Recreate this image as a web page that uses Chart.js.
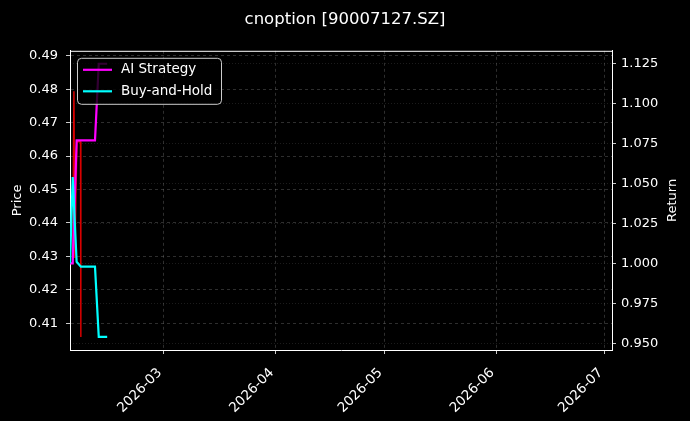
<!DOCTYPE html>
<html>
<head>
<meta charset="utf-8">
<script src="https://cdn.jsdelivr.net/npm/chart.js@4.4.0/dist/chart.umd.min.js"></script>
<style>
  html, body { margin: 0; padding: 0; background: #000; }
  #wrap { width: 690px; height: 421px; }
</style>
</head>
<body>
<div id="wrap"><canvas id="chart"></canvas></div>
<script>
// x range of the axes
const X_START = '2026-02-03T00:00';
const X_END = '2026-07-03T00:00';

// price (left axis, thin red line)
const priceTimes = ['2026-02-03T19:00', '2026-02-04T02:00', '2026-02-04T08:00', '2026-02-04T22:00', '2026-02-05T22:00', '2026-02-06T00:00'];
const priceValues = [0.432, 0.4794, 0.4295, 0.4643, 0.4643, 0.4059];

// equity curves (right axis)
const curveTimes = ['2026-02-03T00:00', '2026-02-03T18:00', '2026-02-04T20:00', '2026-02-06T00:00', '2026-02-09T22:00', '2026-02-10T23:00', '2026-02-13T07:00'];
const aiStrategy = [1.000, 1.000, 1.077, 1.077, 1.077, 1.125, 1.125];
const buyAndHold = [1.000, 1.054, 1.001, 0.998, 0.998, 0.954, 0.954];

// ticks
const monthTicks = ['2026-03-01T00:00', '2026-04-01T00:00', '2026-05-01T00:00', '2026-06-01T00:00', '2026-07-01T00:00'];
const monthLabels = ['2026-03', '2026-04', '2026-05', '2026-06', '2026-07'];
const priceTicks = [0.41, 0.42, 0.43, 0.44, 0.45, 0.46, 0.47, 0.48, 0.49];
const returnTicks = [0.950, 0.975, 1.000, 1.025, 1.050, 1.075, 1.100, 1.125];

const FONT = 'DejaVu Sans';
const t0 = Date.parse(X_START + ':00Z');
const dayOf = s => (Date.parse(s + ':00Z') - t0) / 864e5;
const pts = (times, vals) => times.map((t, i) => ({ x: dayOf(t), y: vals[i] }));

// legend inside the plot, top spine, right axis title read bottom-up
const boxPlugin = {
  id: 'boxPlugin',
  afterDatasetsDraw(chart) {
    const ctx = chart.ctx;
    const a = chart.chartArea;
    const lx = a.left + 7, ly = a.top + 7, lw = 144, lh = 46;
    ctx.save();
    ctx.beginPath();
    ctx.roundRect(lx + 0.5, ly + 0.5, lw, lh, 4);
    ctx.fillStyle = 'rgba(0,0,0,0.8)';
    ctx.fill();
    ctx.strokeStyle = '#cccccc';
    ctx.lineWidth = 1;
    ctx.stroke();
    const items = [
      { label: 'AI Strategy', color: '#ff00ff', y: ly + 12 },
      { label: 'Buy-and-Hold', color: '#00ffff', y: ly + 33.5 }
    ];
    ctx.font = '13.5px "' + FONT + '"';
    ctx.textBaseline = 'middle';
    items.forEach(it => {
      ctx.beginPath();
      ctx.moveTo(lx + 6, it.y);
      ctx.lineTo(lx + 35, it.y);
      ctx.strokeStyle = it.color;
      ctx.lineWidth = 2.2;
      ctx.stroke();
      ctx.fillStyle = '#ffffff';
      ctx.fillText(it.label, lx + 44, it.y);
    });
    ctx.restore();
  },
  afterDraw(chart) {
    const ctx = chart.ctx;
    const a = chart.chartArea;
    ctx.save();
    ctx.strokeStyle = '#ffffff';
    ctx.lineWidth = 1;
    ctx.beginPath();
    ctx.moveTo(a.left, a.top + 0.5);
    ctx.lineTo(a.right, a.top + 0.5);
    ctx.stroke();
    ctx.translate(673, (a.top + a.bottom) / 2);
    ctx.rotate(-Math.PI / 2);
    ctx.font = '13px "' + FONT + '"';
    ctx.fillStyle = '#ffffff';
    ctx.textAlign = 'center';
    ctx.textBaseline = 'middle';
    ctx.fillText('Return', 0, 0);
    ctx.restore();
  }
};

new Chart(document.getElementById('chart'), {
  type: 'line',
  data: {
    datasets: [
      {
        label: 'Price',
        data: pts(priceTimes, priceValues),
        yAxisID: 'y',
        borderColor: 'rgba(255,0,0,0.85)',
        borderWidth: 1.5,
        pointRadius: 0,
        order: 3
      },
      {
        label: 'AI Strategy',
        data: pts(curveTimes, aiStrategy),
        yAxisID: 'y1',
        borderColor: '#ff00ff',
        borderWidth: 2.2,
        pointRadius: 0,
        order: 2
      },
      {
        label: 'Buy-and-Hold',
        data: pts(curveTimes, buyAndHold),
        yAxisID: 'y1',
        borderColor: '#00ffff',
        borderWidth: 2.2,
        pointRadius: 0,
        order: 1
      }
    ]
  },
  options: {
    animation: false,
    responsive: true,
    maintainAspectRatio: false,
    layout: { padding: 0 },
    plugins: {
      legend: { display: false },
      tooltip: { enabled: false },
      title: {
        display: true,
        text: 'cnoption [90007127.SZ]',
        color: '#ffffff',
        font: { family: FONT, size: 16.5, weight: 'normal' },
        padding: { top: 10, bottom: 21 }
      }
    },
    scales: {
      x: {
        type: 'linear',
        min: dayOf(X_START),
        max: dayOf(X_END),
        afterBuildTicks: s => { s.ticks = monthTicks.map(t => ({ value: dayOf(t) })); },
        afterFit: s => { s.height = 71; s.paddingLeft = 0; s.paddingRight = 0; },
        ticks: {
          callback: (v, i) => monthLabels[i],
          color: '#ffffff',
          font: { family: FONT, size: 13.5 },
          autoSkip: false,
          minRotation: 45,
          maxRotation: 45,
          labelOffset: -4,
          padding: 11
        },
        grid: { color: 'rgba(128,128,128,0.45)', lineWidth: 0.8, tickColor: '#ffffff', tickLength: 4 },
        border: { display: true, color: '#ffffff', width: 1, dash: [3, 3] }
      },
      y: {
        position: 'left',
        min: 0.4020,
        max: 0.4915,
        afterBuildTicks: s => { s.ticks = priceTicks.map(v => ({ value: v })); },
        afterFit: s => { s.width = 70; },
        ticks: {
          callback: v => v.toFixed(2),
          color: '#ffffff',
          font: { family: FONT, size: 13 },
          padding: 8
        },
        title: {
          display: true,
          text: 'Price',
          color: '#ffffff',
          font: { family: FONT, size: 13 },
          padding: { top: 10, bottom: 0 }
        },
        grid: { color: 'rgba(128,128,128,0.45)', lineWidth: 0.8, tickColor: '#ffffff', tickLength: 4 },
        border: { display: true, color: '#ffffff', width: 1, dash: [3, 3] }
      },
      y1: {
        position: 'right',
        min: 0.9458,
        max: 1.1331,
        afterBuildTicks: s => { s.ticks = returnTicks.map(v => ({ value: v })); },
        afterFit: s => { s.width = 78; },
        ticks: {
          callback: v => v.toFixed(3),
          color: '#ffffff',
          font: { family: FONT, size: 13 },
          padding: 5
        },
        title: { display: false },
        grid: { color: 'rgba(128,128,128,0.28)', lineWidth: 0.8, tickColor: '#ffffff', tickLength: 4 },
        border: { display: true, color: '#ffffff', width: 1, dash: [1, 2] }
      }
    }
  },
  plugins: [boxPlugin]
});
</script>
</body>
</html>
